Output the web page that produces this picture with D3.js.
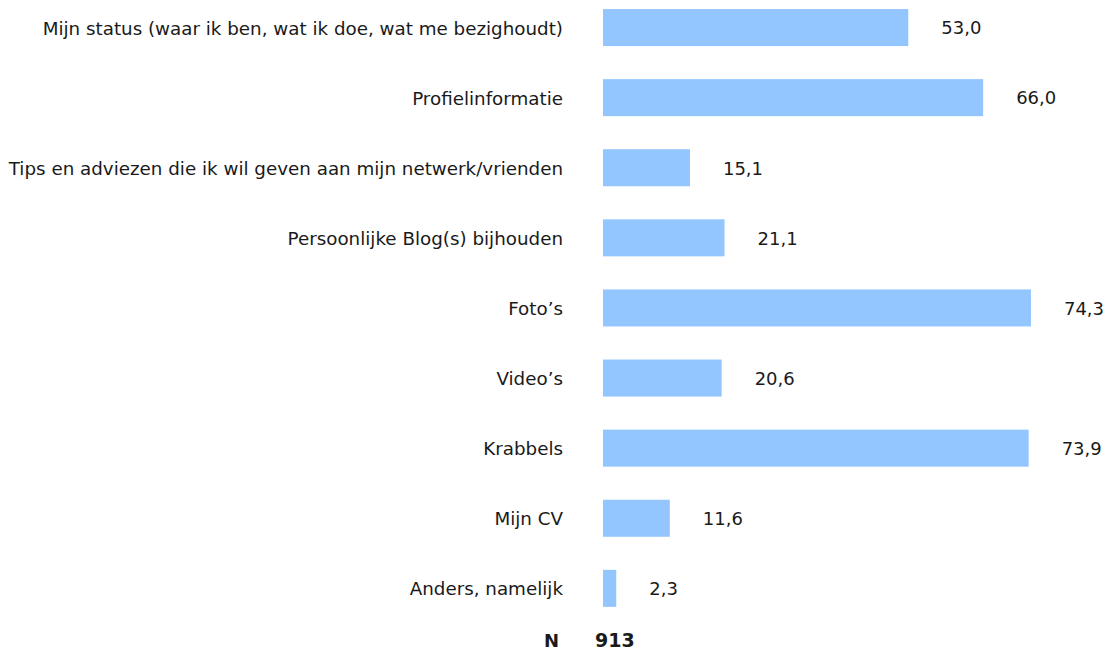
<!DOCTYPE html>
<html>
<head>
<meta charset="utf-8">
<script src="https://cdn.jsdelivr.net/npm/d3@7"></script>
<style>
  body { margin: 0; background: #fff; }
  text { font-family: "DejaVu Sans", Verdana, sans-serif; fill: #1a1a1a; }
</style>
</head>
<body>
<div class="D3"></div>
<script>
// categories and values (percentages)
var categories = [
  "Mijn status (waar ik ben, wat ik doe, wat me bezighoudt)",
  "Profielinformatie",
  "Tips en adviezen die ik wil geven aan mijn netwerk/vrienden",
  "Persoonlijke Blog(s) bijhouden",
  "Foto\u2019s",
  "Video\u2019s",
  "Krabbels",
  "Mijn CV",
  "Anders, namelijk"
];
var values = [53.0, 66.0, 15.1, 21.1, 74.3, 20.6, 73.9, 11.6, 2.3];
var nLabel = "N";
var nValue = 913;

var svgWidth = 1109;
var svgHeight = 652;

var margin = { top: 0, left: 603, right: 0 };

var svg = d3.select(".D3")
  .append("svg")
  .attr("width", svgWidth)
  .attr("height", svgHeight);

var chartGroup = svg.append("g")
  .attr("transform", `translate(${margin.left}, ${margin.top})`);

// x scale: percent -> px
var xLinearScale = d3.scaleLinear()
  .domain([0, 100])
  .range([0, 576]);

// y band scale, one row per category (step ~70px, bar ~37px)
var yBandScale = d3.scaleBand()
  .domain(categories)
  .range([-7.5, 623.4])
  .paddingInner(0.472)
  .paddingOuter(0.236);

var rows = categories.map((c, i) => ({ cat: c, val: values[i] }));

chartGroup.selectAll("rect")
  .data(rows)
  .enter()
  .append("rect")
  .attr("x", 0)
  .attr("y", d => yBandScale(d.cat))
  .attr("width", d => xLinearScale(d.val))
  .attr("height", yBandScale.bandwidth())
  .attr("fill", "#93c6ff");

// category labels at the left
chartGroup.selectAll(".cat-label")
  .data(rows)
  .enter()
  .append("text")
  .classed("cat-label", true)
  .attr("x", -40)
  .attr("y", d => yBandScale(d.cat) + yBandScale.bandwidth() / 2)
  .attr("dy", "0.38em")
  .attr("text-anchor", "end")
  .attr("font-size", 18.3)
  .text(d => d.cat);

// value labels, comma decimal
chartGroup.selectAll(".val-label")
  .data(rows)
  .enter()
  .append("text")
  .classed("val-label", true)
  .attr("x", d => xLinearScale(d.val) + 33)
  .attr("y", d => yBandScale(d.cat) + yBandScale.bandwidth() / 2)
  .attr("dy", "0.38em")
  .attr("font-size", 18)
  .text(d => d.val.toFixed(1).replace(".", ","));

// N footer
chartGroup.append("text")
  .attr("x", -44)
  .attr("y", 647)
  .attr("font-size", 18)
  .attr("font-weight", "bold")
  .attr("text-anchor", "end")
  .text(nLabel);

chartGroup.append("text")
  .attr("x", -8)
  .attr("y", 647)
  .attr("font-size", 19)
  .attr("font-weight", "bold")
  .text(nValue);
</script>
</body>
</html>
